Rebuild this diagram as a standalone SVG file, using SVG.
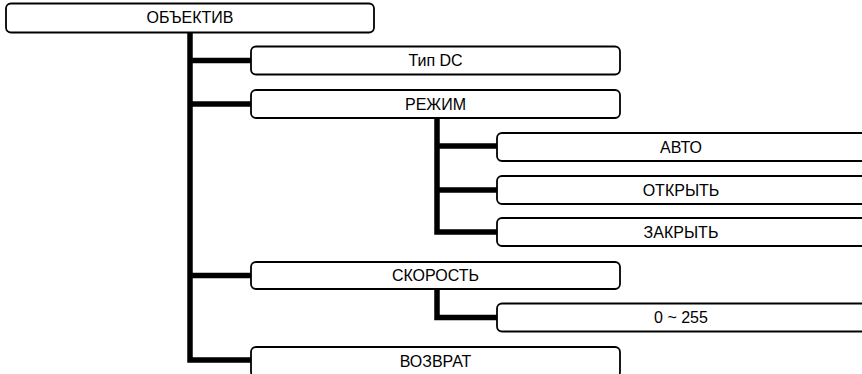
<svg xmlns="http://www.w3.org/2000/svg" width="862" height="374" viewBox="0 0 862 374">
<style>
.box{fill:#fff;stroke:#000;stroke-width:1.8}
.lbl{font-family:"Liberation Sans",Arial,sans-serif;font-size:16px;fill:#000;text-anchor:middle}
.con{fill:none;stroke:#000;stroke-width:5.5;stroke-linejoin:miter;stroke-linecap:butt}
</style>
<rect width="862" height="374" fill="#fff"/>
<g id="connectors">
<polyline class="con" points="190,33 190,360 251,360"/>
<line class="con" x1="190" y1="60.5" x2="251" y2="60.5"/>
<line class="con" x1="190" y1="104" x2="251" y2="104"/>
<line class="con" x1="190" y1="275.5" x2="251" y2="275.5"/>
<polyline class="con" points="437,118 437,232 497,232"/>
<line class="con" x1="437" y1="146" x2="497" y2="146"/>
<line class="con" x1="437" y1="190" x2="497" y2="190"/>
<polyline class="con" points="437,289 437,317.5 497,317.5"/>
</g>
<g id="n-objektiv"><rect class="box" x="6" y="3.5" width="368" height="29" rx="5"/><text class="lbl" x="190" y="23">ОБЪЕКТИВ</text></g>
<g id="n-tipdc"><rect class="box" x="251" y="46.5" width="369" height="28" rx="5"/><text class="lbl" x="435.5" y="66">Тип DC</text></g>
<g id="n-rezhim"><rect class="box" x="251" y="90" width="369" height="28" rx="5"/><text class="lbl" x="435.5" y="109.5">РЕЖИМ</text></g>
<g id="n-avto"><rect class="box" x="497" y="133" width="380" height="28" rx="5"/><text class="lbl" x="681" y="152.5">АВТО</text></g>
<g id="n-otkryt"><rect class="box" x="497" y="176" width="380" height="28" rx="5"/><text class="lbl" x="681" y="195.5">ОТКРЫТЬ</text></g>
<g id="n-zakryt"><rect class="box" x="497" y="218" width="380" height="28" rx="5"/><text class="lbl" x="681" y="237.5">ЗАКРЫТЬ</text></g>
<g id="n-skorost"><rect class="box" x="251" y="262" width="369" height="27" rx="5"/><text class="lbl" x="435.5" y="281">СКОРОСТЬ</text></g>
<g id="n-range"><rect class="box" x="497" y="303.5" width="380" height="28" rx="5"/><text class="lbl" x="681" y="323">0 ~ 255</text></g>
<g id="n-vozvrat"><rect class="box" x="251" y="347" width="369" height="30" rx="5"/><text class="lbl" x="435.5" y="366.5">ВОЗВРАТ</text></g>
</svg>
